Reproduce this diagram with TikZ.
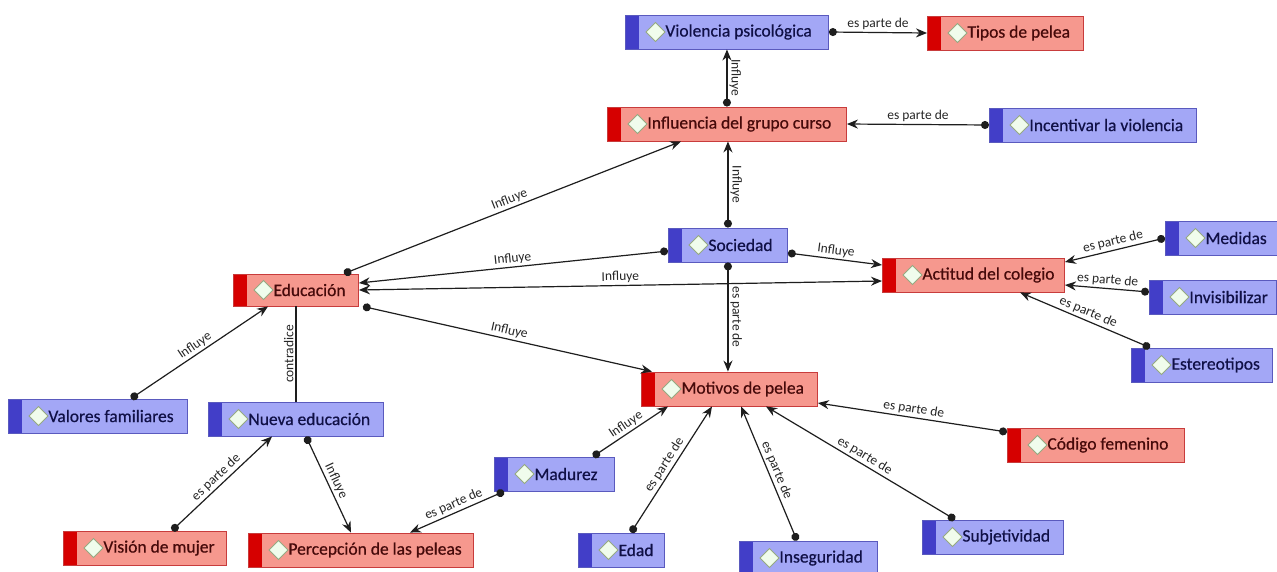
\documentclass[tikz,border=0pt]{standalone}
\usepackage{fontspec}
\setmainfont{Carlito}
\newfontfamily\nodefont{Carlito}[RawFeature={embolden=0.5}]
\usetikzlibrary{arrows.meta,calc}
\definecolor{bfill}{RGB}{163,167,246}
\definecolor{bstrip}{RGB}{66,62,200}
\definecolor{bborder}{RGB}{90,90,190}
\definecolor{btext}{RGB}{16,16,70}
\definecolor{rfill}{RGB}{246,152,142}
\definecolor{rstrip}{RGB}{214,0,0}
\definecolor{rborder}{RGB}{200,60,60}
\definecolor{rtext}{RGB}{70,10,10}
\definecolor{dfill}{RGB}{240,252,236}
\definecolor{ddraw}{RGB}{150,170,130}
\definecolor{linec}{RGB}{30,30,30}
\tikzset{
  concept/.style={anchor=west, draw, line width=0.9pt, minimum height=34pt,
    inner xsep=0pt, inner ysep=0pt, font=\nodefont\fontsize{17.5}{19}\selectfont,
    execute at begin node={\hbox to #1pt\bgroup\hskip40pt},
    execute at end node={\hfil\egroup}},
  bconcept/.style={concept=#1, fill=bfill, draw=bborder, text=btext,
    path picture={
      \fill[bstrip] (path picture bounding box.south west) rectangle ([xshift=14pt]path picture bounding box.north west);
      \draw[fill=dfill, draw=ddraw, line width=0.8pt] ([xshift=30pt]path picture bounding box.west) +(-9.5pt,0) -- +(0,9.5pt) -- +(9.5pt,0) -- +(0,-9.5pt) -- cycle;}},
  rconcept/.style={concept=#1, fill=rfill, draw=rborder, text=rtext,
    path picture={
      \fill[rstrip] (path picture bounding box.south west) rectangle ([xshift=14pt]path picture bounding box.north west);
      \draw[fill=dfill, draw=ddraw, line width=0.8pt] ([xshift=30pt]path picture bounding box.west) +(-9.5pt,0) -- +(0,9.5pt) -- +(9.5pt,0) -- +(0,-9.5pt) -- cycle;}},
  rel/.style={draw=linec, line width=1.2pt, {Circle[length=8pt]}-{Stealth[length=11pt,width=9pt]}},
  both/.style={draw=linec, line width=1.2pt, {Stealth[length=11pt,width=9pt]}-{Stealth[length=11pt,width=9pt]}},
  plain/.style={draw=linec, line width=1.2pt},
  lab/.style={font=\fontsize{13.5}{15}\selectfont, text=black!85, inner sep=2pt},
}
\begin{document}
\begin{tikzpicture}[x=1pt,y=-1pt]
\useasboundingbox[fill=white] (0,0) rectangle (1277,571);
% nodes
\node[bconcept=203] (viol) at (625,32) {Violencia psicológica};
\node[rconcept=156] (tipos) at (927,33) {Tipos de pelea};
\node[rconcept=239] (infl) at (607,124) {Influencia del grupo curso};
\node[bconcept=207] (incent) at (989,125) {Incentivar la violencia};
\node[bconcept=119] (soc) at (668,245) {Sociedad};
\node[bconcept=112] (medidas) at (1165,238) {Medidas};
\node[rconcept=182] (actitud) at (882,275) {Actitud del colegio};
\node[bconcept=127] (invis) at (1149,297) {Invisibilizar};
\node[bconcept=141] (estereo) at (1131,365) {Estereotipos};
\node[rconcept=125, minimum height=32pt] (educ) at (233,290) {Educación};
\node[bconcept=179] (valores) at (8,416) {Valores familiares};
\node[bconcept=175] (nueva) at (208,419) {Nueva educación};
\node[rconcept=176] (motivos) at (641,389) {Motivos de pelea};
\node[rconcept=177] (codigo) at (1007,445) {Código femenino};
\node[bconcept=120] (madurez) at (494,474) {Madurez};
\node[rconcept=163] (vision) at (63,548) {Visión de mujer};
\node[rconcept=225] (percep) at (248,550) {Percepción de las peleas};
\node[bconcept=86] (edad) at (578,550) {Edad};
\node[bconcept=138] (insegur) at (739,558) {Inseguridad};
\node[bconcept=141] (subjet) at (922,537) {Subjetividad};
% connectors
\draw[rel] (viol.east) -- node[lab, above] {es parte de} (tipos.west);
\draw[rel] (infl.north) -- node[lab, midway, rotate=-90, anchor=south] {Influye} (viol.south);
\draw[rel] (incent.west) -- node[lab, above] {es parte de} (infl.east);
\draw[rel] (soc.north) -- node[lab, midway, rotate=-90, anchor=south] {Influye} (soc.north |- infl.south);
\draw[rel] ([xshift=48pt]educ.north) -- node[lab, sloped, above] {Influye} ([xshift=-46pt]infl.south);
\draw[rel] ([yshift=-6pt]soc.west) -- node[lab, sloped, above] {Influye} ([yshift=7pt]educ.east);
\draw[both] (educ.east) -- node[lab, sloped, above, pos=0.5] {Influye} ([yshift=-6pt]actitud.west);
\draw[rel] ([yshift=-8pt]soc.east) -- node[lab, sloped, above] {Influye} ([yshift=10pt]actitud.west);
\draw[rel] ([xshift=4pt]educ.south east) -- node[lab, sloped, above] {Influye} ([xshift=11pt]motivos.north west);
\draw[rel] (soc.south) -- node[lab, midway, rotate=-90, anchor=south] {es parte de} (soc.south |- motivos.north);
\draw[rel] (medidas.west) -- node[lab, sloped, above] {es parte de} ([yshift=13pt]actitud.east);
\draw[rel] ([yshift=5pt]invis.west) -- node[lab, sloped, above] {es parte de} ([yshift=-10pt]actitud.east);
\draw[rel] ([xshift=19pt]estereo.north west) -- node[lab, sloped, above] {es parte de} ([xshift=138pt]actitud.south west);
\draw[rel] ([xshift=123pt]valores.north west) -- node[lab, sloped, above] {Influye} ([xshift=35pt]educ.south west);
\draw[plain] ([xshift=88pt]nueva.north west) -- node[lab, midway, rotate=90, anchor=south] {contradice} ([xshift=88pt]nueva.north west |- educ.south);
\draw[rel] ([xshift=109pt]vision.north west) -- node[lab, sloped, above] {es parte de} ([xshift=64pt]nueva.south west);
\draw[rel] ([xshift=98pt]nueva.south west) -- node[lab, sloped, above] {Influye} ([xshift=103pt]percep.north west);
\draw[rel] ([xshift=10pt]madurez.south west) -- node[lab, sloped, above] {es parte de} ([xshift=162pt]percep.north west);
\draw[rel] ([xshift=99pt]madurez.north west) -- node[lab, sloped, above] {Influye} ([xshift=27pt]motivos.south west);
\draw[rel] ([xshift=53pt]edad.north west) -- node[lab, sloped, above] {es parte de} ([xshift=71pt]motivos.south west);
\draw[rel] ([xshift=58pt]insegur.north west) -- node[lab, sloped, above] {es parte de} ([xshift=100pt]motivos.south west);
\draw[rel] ([xshift=33pt]subjet.north west) -- node[lab, sloped, above] {es parte de} ([xshift=125pt]motivos.south west);
\draw[rel] ([yshift=13pt]codigo.west) -- node[lab, sloped, above] {es parte de} ([yshift=-14pt]motivos.east);
\end{tikzpicture}
\end{document}
